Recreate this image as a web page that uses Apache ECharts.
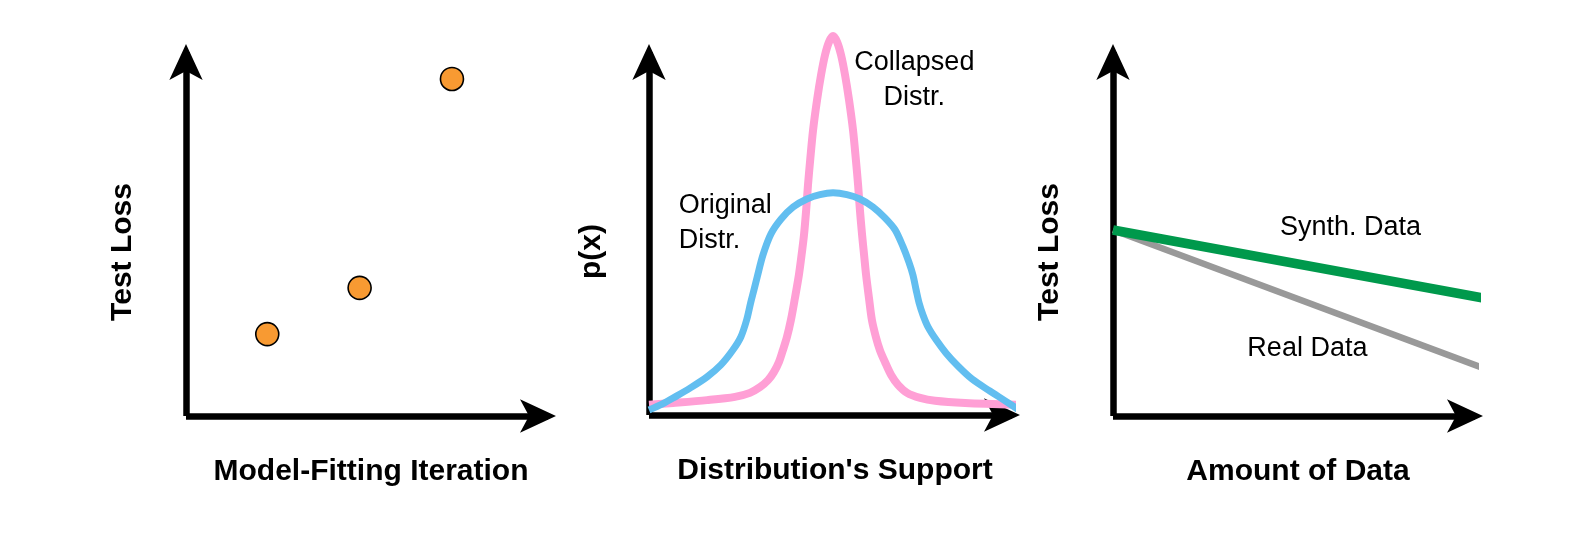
<!DOCTYPE html>
<html>
<head>
<meta charset="utf-8">
<script src="https://cdn.jsdelivr.net/npm/echarts@6/dist/echarts.min.js"></script>
<style>
  html, body { margin: 0; padding: 0; background: #ffffff; }
  #chart { width: 1577px; height: 533px; }
</style>
</head>
<body>
<div id="chart"></div>
<script>
// ---------- Panel 1: Test loss vs model-fitting iteration ----------
const iterations = [1, 2, 3];
const iterationLoss = [22.5, 35.2, 92.6];

// ---------- Panel 2: distributions over the support ----------
const collapsedX = [0, 6.6, 16.0, 23.7, 27.8, 30.6, 32.8, 34.4, 35.8, 36.9, 38.0, 39.1, 40.2, 41.3, 42.1, 42.7, 43.3, 43.8, 44.4, 45.2, 46.3, 47.4, 48.5, 49.6, 50.7,
  51.8, 52.9, 54.0, 55.1, 56.2, 57.0, 57.6, 58.1, 58.7, 59.2, 59.8, 60.6, 61.4, 62.5, 63.6, 65.0, 66.7, 68.6, 71.1, 74.7, 78.8, 87.1, 101.9];
const collapsedY = [2.8, 3.3, 4.1, 5.0, 6.1, 7.7, 9.6, 11.8, 14.6, 17.9, 21.5, 26.2, 32.2, 38.6, 44.6, 49.6, 56.5, 63.4, 70.2, 78.5, 86.8, 93.7, 99.2, 102.8, 104.4,
  102.8, 99.2, 93.7, 86.8, 78.5, 70.2, 63.4, 56.5, 49.6, 44.6, 38.6, 32.2, 26.2, 21.5, 17.9, 14.6, 11.0, 8.3, 6.1, 4.7, 3.9, 3.3, 2.8];
const originalX = [0, 3.6, 7.2, 11.3, 16.0, 19.8, 23.1, 25.3, 26.9, 28.0, 28.9, 29.8, 31.4, 33.6, 36.4, 39.7, 43.5, 47.1, 50.7,
  54.5, 58.1, 61.7, 65.0, 67.8, 70.0, 71.6, 72.7, 73.6, 74.4, 75.5, 76.9, 79.1, 81.8, 85.1, 89.0, 93.9, 98.1, 101.9];
const originalY = [1.4, 3.0, 5.0, 7.4, 10.5, 13.8, 17.9, 21.5, 26.2, 30.9, 34.4, 38.0, 44.1, 49.9, 54.0, 57.3, 59.5, 60.7, 61.2,
  60.7, 59.5, 57.3, 54.3, 51.0, 46.3, 42.1, 38.6, 34.4, 30.9, 27.5, 24.2, 20.7, 17.1, 13.5, 9.9, 6.6, 3.9, 1.4];

// ---------- Panel 3: Test loss vs amount of data ----------
const dataAmount = [0, 102.2];
const synthLoss = [51.1, 32.4];
const realLoss = [51.1, 13.2];

// ---------- Text ----------
const xNames = ['Model-Fitting Iteration', "Distribution's Support", 'Amount of Data'];
const yNames = ['Test Loss', 'p(x)', 'Test Loss'];
const annotations = [
  { grid: 1, x: 73.1, y: 92.3, text: 'Collapsed\nDistr.', align: 'center' },
  { grid: 1, x: 8.2, y: 52.9, text: 'Original\nDistr.', align: 'left' },
  { grid: 2, x: 65.6, y: 51.9, text: 'Synth. Data', align: 'center' },
  { grid: 2, x: 53.7, y: 18.4, text: 'Real Data', align: 'center' }
];

const FONT = '"Liberation Sans", Arial, Helvetica, sans-serif';
const AXIS_W = 6.5;

const grids = [
  { left: 186, right: 1029, top: 52, bottom: 117 },
  { left: 649, right: 565, top: 52, bottom: 118 },
  { left: 1113, right: 102, top: 52, bottom: 117 }
];

const xRanges = [[0.12, 4.04], [0, 100], [0, 100]];
const namePadX = [8, 9, 8];

function axisLine() {
  return {
    show: true,
    onZero: false,
    symbol: ['none', 'arrow'],
    symbolSize: [25, 36],
    symbolOffset: [0, 8],
    lineStyle: { color: '#000000', width: AXIS_W, cap: 'butt' }
  };
}

const xAxes = grids.map((g, i) => ({
  type: 'value',
  gridIndex: i,
  min: xRanges[i][0],
  max: xRanges[i][1],
  axisLine: axisLine(),
  axisTick: { show: false },
  axisLabel: { show: false },
  splitLine: { show: false },
  name: xNames[i],
  nameLocation: 'middle',
  nameGap: 41,
  nameTextStyle: {
    fontFamily: FONT, fontWeight: 'bold', fontSize: 30, color: '#000000',
    padding: [0, 0, 0, namePadX[i]]
  }
}));

const yAxes = grids.map((g, i) => ({
  type: 'value',
  gridIndex: i,
  min: 0,
  max: 100,
  axisLine: axisLine(),
  axisTick: { show: false },
  axisLabel: { show: false },
  splitLine: { show: false },
  name: yNames[i],
  nameLocation: 'middle',
  nameGap: i === 1 ? 42 : 48,
  nameTextStyle: {
    fontFamily: FONT, fontWeight: 'bold', fontSize: 30, color: '#000000',
    padding: [0, 36, 0, 0]
  }
}));

const zip = (a, b) => a.map((v, i) => [v, b[i]]);

const series = [
  {
    type: 'scatter',
    xAxisIndex: 0, yAxisIndex: 0,
    data: zip(iterations, iterationLoss),
    symbol: 'circle',
    symbolSize: 23,
    itemStyle: { color: '#F89A32', borderColor: '#000000', borderWidth: 1.6, opacity: 1 },
    z: 5
  },
  {
    type: 'line',
    xAxisIndex: 1, yAxisIndex: 1,
    data: zip(collapsedX, collapsedY),
    showSymbol: false, symbol: 'none',
    smooth: 0.3,
    clip: false,
    lineStyle: { color: '#FF9FD5', width: 8, cap: 'butt', join: 'round' },
    z: 4
  },
  {
    type: 'line',
    xAxisIndex: 1, yAxisIndex: 1,
    data: zip(originalX, originalY),
    showSymbol: false, symbol: 'none',
    smooth: 0.3,
    clip: false,
    lineStyle: { color: '#62BEF0', width: 7, cap: 'butt', join: 'round' },
    z: 5
  },
  {
    type: 'line',
    xAxisIndex: 2, yAxisIndex: 2,
    data: zip(dataAmount, realLoss),
    showSymbol: false, symbol: 'none',
    clip: false,
    lineStyle: { color: '#999999', width: 6.5, cap: 'butt' },
    z: 4
  },
  {
    type: 'line',
    xAxisIndex: 2, yAxisIndex: 2,
    data: zip(dataAmount, synthLoss),
    showSymbol: false, symbol: 'none',
    clip: false,
    lineStyle: { color: '#00994C', width: 9.5, cap: 'butt' },
    z: 5
  }
];

annotations.forEach(a => {
  series.push({
    type: 'scatter',
    xAxisIndex: a.grid, yAxisIndex: a.grid,
    data: [[a.x, a.y]],
    symbolSize: 1,
    itemStyle: { color: 'rgba(255,255,255,0)', opacity: 1 },
    silent: true,
    z: 6,
    label: {
      show: true,
      position: 'inside',
      align: a.align,
      verticalAlign: 'middle',
      formatter: a.text,
      fontFamily: FONT,
      fontSize: 27,
      lineHeight: 35,
      color: '#000000',
      opacity: 1,
      textBorderWidth: 0,
      textShadowBlur: 0
    }
  });
});

const chart = echarts.init(document.getElementById('chart'), null, { renderer: 'canvas' });
chart.setOption({
  animation: false,
  backgroundColor: '#ffffff',
  grid: grids,
  xAxis: xAxes,
  yAxis: yAxes,
  series: series
});
</script>
</body>
</html>
